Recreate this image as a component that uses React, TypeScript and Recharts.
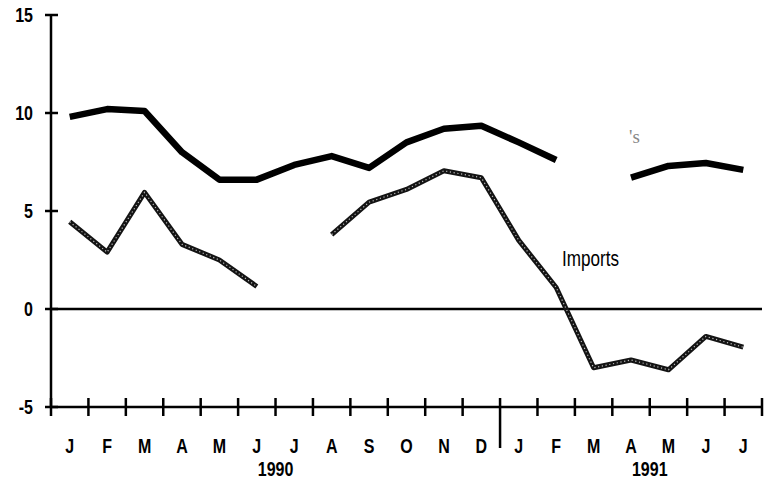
import React from 'react';
import { LineChart, Line, XAxis, YAxis, ReferenceLine } from 'recharts';

const months = [
  '1990-01', '1990-02', '1990-03', '1990-04', '1990-05', '1990-06',
  '1990-07', '1990-08', '1990-09', '1990-10', '1990-11', '1990-12',
  '1991-01', '1991-02', '1991-03', '1991-04', '1991-05', '1991-06', '1991-07',
];
const monthLabels = ['J', 'F', 'M', 'A', 'M', 'J', 'J', 'A', 'S', 'O', 'N', 'D', 'J', 'F', 'M', 'A', 'M', 'J', 'J'];
const totalSeries = [9.8, 10.2, 10.1, 8.0, 6.6, 6.6, 7.35, 7.8, 7.2, 8.5, 9.2, 9.35, 8.5, 7.6, null, 6.7, 7.3, 7.45, 7.1];
const importsSeries = [4.45, 2.9, 5.95, 3.3, 2.5, 1.15, null, 3.8, 5.45, 6.1, 7.05, 6.7, 3.5, 1.1, -3.0, -2.6, -3.1, -1.4, -1.95];
const yTicks = [-5, 0, 5, 10, 15];
const years = ['1990', '1991'];
const yearAfterIndex = [5, 15];
const yearBreakIndex = 12;
const seriesLabel = 'Imports';
const strayMark = "'s";

const data = months.map((m, i) => ({
  month: m,
  total: totalSeries[i],
  imports: importsSeries[i],
}));

const W = 772;
const H = 485;
const M = { top: 15, right: 10, bottom: 0, left: 0 };
const Y_AXIS_W = 51;
const X_AXIS_H = 78;
const PLOT_W = W - Y_AXIS_W - M.right;
const BAND = PLOT_W / months.length;
const FONT = "'Liberation Sans', Arial, sans-serif";
const SX = 0.8;

const NarrowText = ({ x, y, anchor, children, size = 20, weight = 'bold' }: any) => (
  <text
    transform={`translate(${x},${y}) scale(${SX},1)`}
    textAnchor={anchor}
    fontSize={size}
    fontWeight={weight}
    fontFamily={FONT}
    fill="#000"
  >
    {children}
  </text>
);

const XTick = (props: any) => {
  const { x, y, index } = props;
  const half = BAND / 2;
  const yi = yearAfterIndex.indexOf(index);
  return (
    <g>
      <line
        x1={x - half}
        x2={x - half}
        y1={y - 9}
        y2={index === yearBreakIndex ? y + 41 : y + 9}
        stroke="#000"
        strokeWidth={2.5}
      />
      {index === months.length - 1 && (
        <line x1={x + half} x2={x + half} y1={y - 9} y2={y + 9} stroke="#000" strokeWidth={2.5} />
      )}
      <NarrowText x={x} y={y + 46} anchor="middle">{monthLabels[index]}</NarrowText>
      {yi >= 0 && (
        <NarrowText x={x + half} y={y + 69} anchor="middle">{years[yi]}</NarrowText>
      )}
    </g>
  );
};

const YTick = (props: any) => {
  const { x, y, payload } = props;
  return (
    <g>
      <line x1={x - 6} x2={x + 7} y1={y} y2={y} stroke="#000" strokeWidth={2.5} />
      <NarrowText x={x - 18} y={y + 7} anchor="end">{payload.value}</NarrowText>
    </g>
  );
};

export default function App() {
  return (
    <div style={{ position: 'absolute', left: 0, top: 0, width: W, height: H, background: '#fff' }}>
      <LineChart width={W} height={H} data={data} margin={M}>
        <XAxis
          dataKey="month"
          scale="band"
          interval={0}
          height={X_AXIS_H}
          tickSize={0}
          tickMargin={0}
          tickLine={false}
          axisLine={{ stroke: '#000', strokeWidth: 2.5 }}
          tick={<XTick />}
        />
        <YAxis
          type="number"
          domain={[-5, 15]}
          ticks={yTicks}
          interval={0}
          width={Y_AXIS_W}
          tickSize={0}
          tickMargin={0}
          tickLine={false}
          axisLine={{ stroke: '#000', strokeWidth: 2.5 }}
          tick={<YTick />}
        />
        <ReferenceLine y={0} stroke="#000" strokeWidth={2.5} />
        <Line
          dataKey="total"
          stroke="#000"
          strokeWidth={6.5}
          dot={false}
          connectNulls={false}
          isAnimationActive={false}
          strokeLinejoin="round"
        />
        <Line
          dataKey="imports"
          stroke="#141414"
          strokeWidth={5}
          dot={false}
          connectNulls={false}
          isAnimationActive={false}
          strokeLinejoin="round"
        />
        <Line
          dataKey="imports"
          stroke="#bdbdbd"
          strokeWidth={1.2}
          strokeDasharray="1.2 2.6"
          dot={false}
          connectNulls={false}
          isAnimationActive={false}
        />
      </LineChart>
      <svg
        width={W}
        height={H}
        style={{ position: 'absolute', left: 0, top: 0, pointerEvents: 'none' }}
      >
        <text x={562} y={266} fontSize={22} fontFamily={FONT} fill="#000" textLength={57} lengthAdjust="spacingAndGlyphs">
          {seriesLabel}
        </text>
        <text x={629} y={143} fontSize={19} fontFamily="serif" fill="#888">
          {strayMark}
        </text>
      </svg>
    </div>
  );
}
